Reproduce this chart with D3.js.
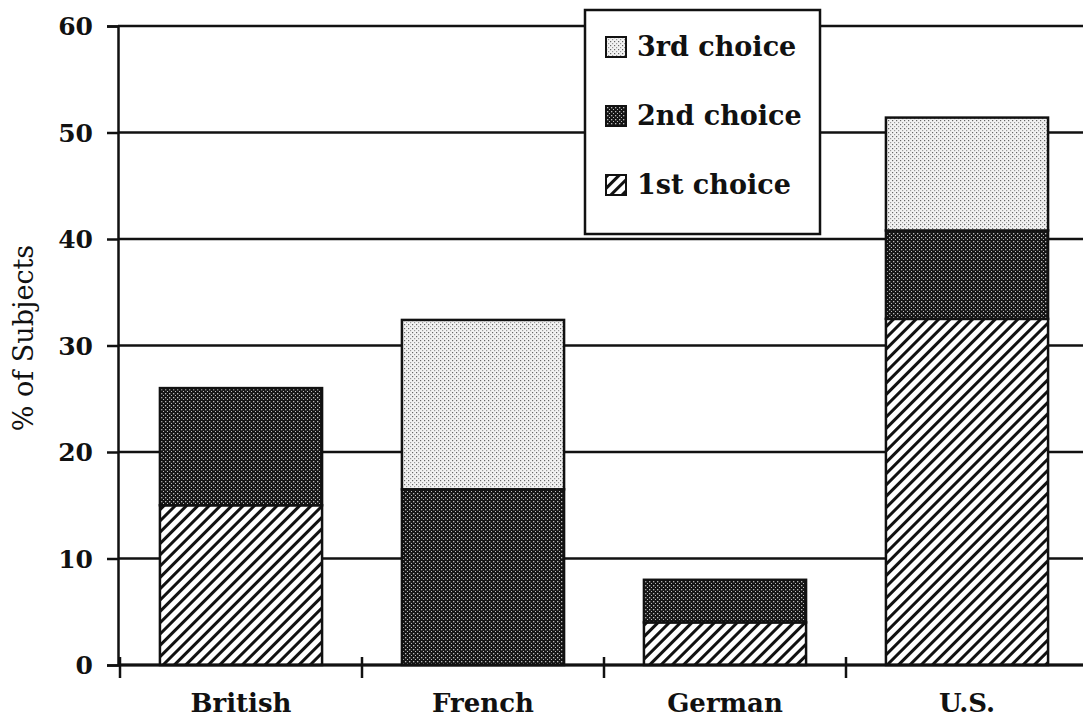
<!DOCTYPE html>
<html>
<head>
<meta charset="utf-8">
<script src="https://cdn.jsdelivr.net/npm/d3@7/dist/d3.min.js"></script>
<style>
  body { margin: 0; background: #fff; }
  svg { display: block; }
  text { font-family: "Palatino Linotype", "Book Antiqua", "DejaVu Serif", serif; fill: #111; }
</style>
</head>
<body>
<div id="chart"></div>
<script>
// data
var groups = ["British", "French", "German", "U.S."];
var first  = [15, 0, 4, 32.5];
var second = [11, 16.5, 4, 8.3];
var third  = [0, 15.9, 0, 10.6];
var yTicks = [0, 10, 20, 30, 40, 50, 60];
var seriesNames = ["1st choice", "2nd choice", "3rd choice"];

var W = 1083, H = 724;
var svg = d3.select("#chart").append("svg")
    .attr("width", W)
    .attr("height", H);

/* fill patterns */
var defs = svg.append("defs");

var hatch = defs.append("pattern")
    .attr("id", "hatch")
    .attr("patternUnits", "userSpaceOnUse")
    .attr("width", 8).attr("height", 8)
    .attr("patternTransform", "rotate(45)");
hatch.append("rect").attr("width", 8).attr("height", 8).attr("fill", "#fff");
hatch.append("rect").attr("width", 3).attr("height", 8).attr("fill", "#111");

var dark = defs.append("pattern")
    .attr("id", "dark")
    .attr("patternUnits", "userSpaceOnUse")
    .attr("width", 4).attr("height", 4);
dark.append("rect").attr("width", 4).attr("height", 4).attr("fill", "#151515");
dark.append("rect").attr("x", 1).attr("y", 1).attr("width", 1.3).attr("height", 1.3).attr("fill", "#bbb");
dark.append("rect").attr("x", 3).attr("y", 3).attr("width", 1.3).attr("height", 1.3).attr("fill", "#bbb");

var light = defs.append("pattern")
    .attr("id", "light")
    .attr("patternUnits", "userSpaceOnUse")
    .attr("width", 4).attr("height", 4);
light.append("rect").attr("width", 4).attr("height", 4).attr("fill", "#f2f2f2");
light.append("rect").attr("x", 0).attr("y", 0).attr("width", 1.2).attr("height", 1.2).attr("fill", "#666");
light.append("rect").attr("x", 2).attr("y", 2).attr("width", 1.2).attr("height", 1.2).attr("fill", "#999");

var fills = ["url(#hatch)", "url(#dark)", "url(#light)"];

/* scales */
var x = d3.scaleBand()
    .domain(groups)
    .range([120, 1088])
    .paddingInner(0.33)
    .paddingOuter(0.165);

var y = d3.scaleLinear()
    .domain([0, 60])
    .range([665, 26]);

/* gridlines */
svg.append("g")
    .selectAll("line")
    .data(yTicks)
    .join("line")
    .attr("x1", 118)
    .attr("x2", W)
    .attr("y1", function(d){ return y(d); })
    .attr("y2", function(d){ return y(d); })
    .attr("stroke", "#111")
    .attr("stroke-width", 2.5);

/* y axis */
var yAxis = svg.append("g")
    .attr("transform", "translate(118,0)")
    .call(d3.axisLeft(y).tickValues(yTicks).tickSize(11).tickPadding(14));
yAxis.select(".domain").attr("stroke", "#111").attr("stroke-width", 2.5);
yAxis.selectAll(".tick line").attr("stroke", "#111").attr("stroke-width", 2.5);
yAxis.selectAll("text")
    .style("font-size", "25px")
    .style("font-weight", "bold")
    .attr("dy", "0.35em");

/* x axis: ticks at category boundaries */
var step = x.step();
var bounds = groups.map(function(g, i){ return 120 + i * step; });
svg.append("g")
    .selectAll("line")
    .data(bounds)
    .join("line")
    .attr("x1", function(d){ return d; })
    .attr("x2", function(d){ return d; })
    .attr("y1", 657)
    .attr("y2", 678)
    .attr("stroke", "#111")
    .attr("stroke-width", 2.5);

svg.append("g")
    .selectAll("text")
    .data(groups)
    .join("text")
    .attr("x", function(d){ return x(d) + x.bandwidth() / 2; })
    .attr("y", 712)
    .attr("text-anchor", "middle")
    .style("font-size", "26px")
    .style("font-weight", "bold")
    .text(function(d){ return d; });

/* stacked bars */
var rows = groups.map(function(g, i){
    return {group: g, s0: first[i], s1: second[i], s2: third[i]};
});
var stack = d3.stack().keys(["s0", "s1", "s2"]);
var layers = stack(rows);

svg.append("g")
    .selectAll("g")
    .data(layers)
    .join("g")
    .attr("fill", function(d, i){ return fills[i]; })
    .selectAll("rect")
    .data(function(d){ return d.filter(function(v){ return v[1] - v[0] > 0; }); })
    .join("rect")
    .attr("x", function(d){ return x(d.data.group); })
    .attr("y", function(d){ return y(d[1]); })
    .attr("width", x.bandwidth())
    .attr("height", function(d){ return y(d[0]) - y(d[1]); })
    .attr("stroke", "#111")
    .attr("stroke-width", 2.5);

/* x axis line on top of bars */
svg.append("line")
    .attr("x1", 118).attr("x2", W)
    .attr("y1", y(0)).attr("y2", y(0))
    .attr("stroke", "#111")
    .attr("stroke-width", 3);

/* y axis title */
svg.append("text")
    .attr("transform", "translate(33,338) rotate(-90)")
    .attr("text-anchor", "middle")
    .style("font-size", "27px")
    .text("% of Subjects");

/* legend */
var legend = svg.append("g");
legend.append("rect")
    .attr("x", 585).attr("y", 10)
    .attr("width", 235).attr("height", 224)
    .attr("fill", "#fff")
    .attr("stroke", "#111")
    .attr("stroke-width", 2.5);

var legendOrder = [2, 1, 0];
var item = legend.selectAll("g.item")
    .data(legendOrder)
    .join("g")
    .attr("class", "item")
    .attr("transform", function(d, i){ return "translate(606," + (37 + i * 69) + ")"; });
item.append("rect")
    .attr("width", 20).attr("height", 20)
    .attr("fill", function(d){ return fills[d]; })
    .attr("stroke", "#111")
    .attr("stroke-width", 2);
item.append("text")
    .attr("x", 31)
    .attr("y", 19)
    .style("font-size", "27px")
    .style("font-weight", "bold")
    .text(function(d){ return seriesNames[d]; });
</script>
</body>
</html>
